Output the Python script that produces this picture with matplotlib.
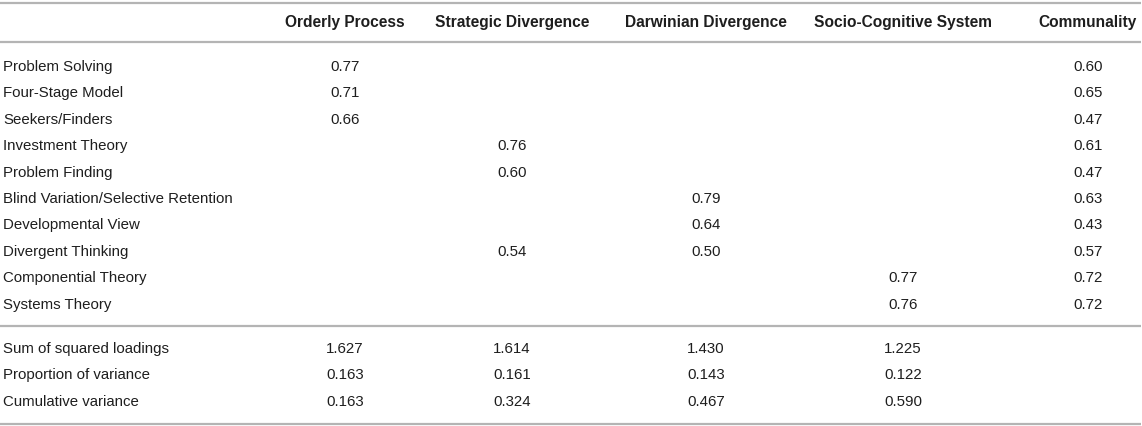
import matplotlib
matplotlib.use('Agg')
import matplotlib.pyplot as plt

plt.rcParams['font.family'] = ['Liberation Sans', 'DejaVu Sans']

columns = ['Orderly Process', 'Strategic Divergence', 'Darwinian Divergence',
           'Socio-Cognitive System', 'Communality']
items = ['Problem Solving', 'Four-Stage Model', 'Seekers/Finders', 'Investment Theory',
         'Problem Finding', 'Blind Variation/Selective Retention', 'Developmental View',
         'Divergent Thinking', 'Componential Theory', 'Systems Theory']
orderly = ['0.77', '0.71', '0.66', '', '', '', '', '', '', '']
strategic = ['', '', '', '0.76', '0.60', '', '', '0.54', '', '']
darwinian = ['', '', '', '', '', '0.79', '0.64', '0.50', '', '']
socio = ['', '', '', '', '', '', '', '', '0.77', '0.76']
communality = ['0.60', '0.65', '0.47', '0.61', '0.47', '0.63', '0.43', '0.57', '0.72', '0.72']

summary_labels = ['Sum of squared loadings', 'Proportion of variance', 'Cumulative variance']
summary = [['1.627', '1.614', '1.430', '1.225', ''],
           ['0.163', '0.161', '0.143', '0.122', ''],
           ['0.163', '0.324', '0.467', '0.590', '']]

W, H = 1142, 426
fig = plt.figure(figsize=(W / 100, H / 100), dpi=100)
ax = fig.add_axes([0, 0, 1, 1])
ax.set_xlim(0, W)
ax.set_ylim(H, 0)
ax.axis('off')

col_x = [345, 512, 706, 903, 1088]
fs = 10.8
txtc = '#1e1e1e'
linec = '#b4b4b4'

# rules
for y in [3, 42, 326, 424]:
    ax.plot([0, 1141], [y, y], color=linec, lw=1.6, solid_capstyle='butt')

# header
for cx, name in zip(col_x, columns):
    ax.text(cx, 23, name, ha='center', va='center', fontsize=11.2, fontweight='bold', color=txtc)

# loadings
row_y0, dy = 67, 26.4
cols = [orderly, strategic, darwinian, socio, communality]
for i, name in enumerate(items):
    y = row_y0 + i * dy
    ax.text(3, y, name, ha='left', va='center', fontsize=fs, color=txtc)
    for cx, col in zip(col_x, cols):
        if col[i]:
            ax.text(cx, y, col[i], ha='center', va='center', fontsize=fs, color=txtc)

# summary
for i, name in enumerate(summary_labels):
    y = 349 + i * 26.4
    ax.text(3, y, name, ha='left', va='center', fontsize=fs, color=txtc)
    for cx, v in zip(col_x, summary[i]):
        if v:
            ax.text(cx, y, v, ha='center', va='center', fontsize=fs, color=txtc)

plt.savefig('out.png', dpi=100)
